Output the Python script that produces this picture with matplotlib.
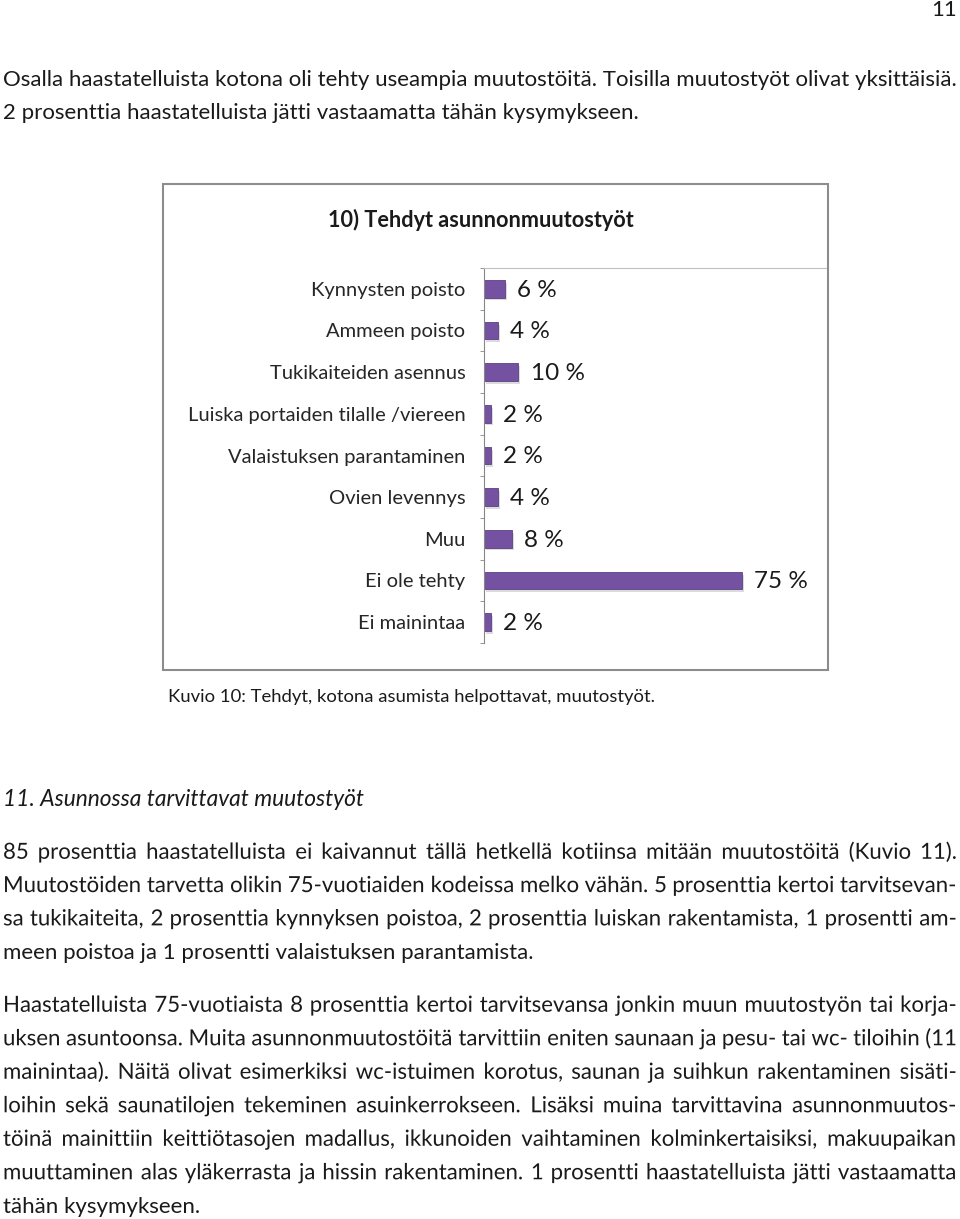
import matplotlib
matplotlib.use("Agg")
import matplotlib.pyplot as plt
import matplotlib.patheffects as pe
from matplotlib.patches import Rectangle

W, H = 960, 1219

categories = ["Kynnysten poisto", "Ammeen poisto", "Tukikaiteiden asennus",
              "Luiska portaiden tilalle /viereen", "Valaistuksen parantaminen",
              "Ovien levennys", "Muu", "Ei ole tehty", "Ei mainintaa"]
values = [6, 4, 10, 2, 2, 4, 8, 75, 2]

chart_title = "10) Tehdyt asunnonmuutostyöt"
caption = "Kuvio 10: Tehdyt, kotona asumista helpottavat, muutostyöt."
heading = "11. Asunnossa tarvittavat muutostyöt"
intro_lines = [
    "Osalla haastatelluista kotona oli tehty useampia muutostöitä. Toisilla muutostyöt olivat yksittäisiä.",
    "2 prosenttia haastatelluista jätti vastaamatta tähän kysymykseen.",
]
para1 = [
    "85 prosenttia haastatelluista ei kaivannut tällä hetkellä kotiinsa mitään muutostöitä (Kuvio 11).",
    "Muutostöiden tarvetta olikin 75-vuotiaiden kodeissa melko vähän. 5 prosenttia kertoi tarvitsevan-",
    "sa tukikaiteita, 2 prosenttia kynnyksen poistoa, 2 prosenttia luiskan rakentamista, 1 prosentti am-",
    "meen poistoa ja 1 prosentti valaistuksen parantamista.",
]
para2 = [
    "Haastatelluista 75-vuotiaista 8 prosenttia kertoi tarvitsevansa jonkin muun muutostyön tai korja-",
    "uksen asuntoonsa. Muita asunnonmuutostöitä tarvittiin eniten saunaan ja pesu- tai wc- tiloihin (11",
    "mainintaa). Näitä olivat esimerkiksi wc-istuimen korotus, saunan ja suihkun rakentaminen sisäti-",
    "loihin sekä saunatilojen tekeminen asuinkerrokseen. Lisäksi muina tarvittavina asunnonmuutos-",
    "töinä mainittiin keittiötasojen madallus, ikkunoiden vaihtaminen kolminkertaisiksi, makuupaikan",
    "muuttaminen alas yläkerrasta ja hissin rakentaminen. 1 prosentti haastatelluista jätti vastaamatta",
    "tähän kysymykseen.",
]

FONT = "Lato"
BODY = 16
TXT = "#1a1a1a"

fig = plt.figure(figsize=(W / 100, H / 100), dpi=100)
renderer = fig.canvas.get_renderer()


def fx(x):
    return x / W


def fy(y):
    return 1 - y / H


def put(x, y, s, **kw):
    # y is the visual centre of the lowercase letters; place on the baseline
    size = kw.get("fontsize", BODY)
    return fig.text(fx(x), fy(y + size * 1.389 * 0.26), s, family=FONT, color=TXT,
                    va="baseline", **kw)


def justified(x0, x1, y, line, size):
    words = line.split(" ")
    # drawn as paths so every word sits on the same baseline
    items = [put(x0, y, w, fontsize=size, path_effects=[pe.Normal()]) for w in words]
    widths = [t.get_window_extent(renderer).width for t in items]
    gap = (x1 - x0 - sum(widths)) / max(len(words) - 1, 1)
    x = x0
    for t, w in zip(items, widths):
        t.set_x(fx(x))
        x += w + gap


# page number and top text
put(957, 10, "11", fontsize=BODY, ha="right")
for i, line in enumerate(intro_lines):
    put(3, 80 + i * 33, line, fontsize=BODY)

# chart frame
fig.patches.append(Rectangle((fx(163), fy(670)), fx(828) - fx(163), fy(184) - fy(670),
                             transform=fig.transFigure, fill=False,
                             edgecolor="#8c8c8c", linewidth=1.5))
put(481, 221, chart_title, fontsize=15.6, fontweight="bold", ha="center")

ax_l, ax_r, ax_t, ax_b = 484, 828, 268, 643
ax = fig.add_axes([fx(ax_l), fy(ax_b), fx(ax_r) - fx(ax_l), fy(ax_t) - fy(ax_b)])
ypos = list(range(len(categories)))
bars = ax.barh(ypos, values, height=0.42, color="#7551a2", edgecolor="#5c3f86", linewidth=0.6)
for b in bars:
    b.set_path_effects([pe.SimplePatchShadow(offset=(1.5, -2), shadow_rgbFace="#9a9a9a", alpha=0.35),
                        pe.Normal()])
for yv, v in zip(ypos, values):
    ax.annotate(f"{v} %", (v, yv), xytext=(9, -1), textcoords="offset points",
                va="center", ha="left", fontsize=17.5, family=FONT, color=TXT)
ax.set_xlim(0, 100)
ax.set_ylim(len(categories) - 0.5, -0.5)
ax.set_xticks([])
ax.set_yticks(ypos)
ax.set_yticklabels(categories, family=FONT, fontsize=14.5, color="#262626")
ax.set_yticks([i - 0.5 for i in range(len(categories) + 1)], minor=True)
ax.tick_params(axis="y", which="major", length=0, pad=13.5)
ax.tick_params(axis="y", which="minor", length=3, color="#868686", direction="out")
for s in ["right", "bottom"]:
    ax.spines[s].set_visible(False)
ax.spines["left"].set_color("#868686")
ax.spines["top"].set_color("#c0c0c0")
ax.patch.set_alpha(0)

put(168, 697, caption, fontsize=13.3)
put(3, 800, heading, fontsize=16.4, style="italic")

for i, line in enumerate(para1):
    y = 853 + i * 33.3
    if i < len(para1) - 1:
        justified(3, 957, y, line, BODY)
    else:
        put(3, y, line, fontsize=BODY)

for i, line in enumerate(para2):
    y = 1006 + i * 33.5
    if i < len(para2) - 1:
        justified(3, 957, y, line, BODY)
    else:
        put(3, y, line, fontsize=BODY)

fig.savefig("out.png", dpi=100, facecolor="white")
